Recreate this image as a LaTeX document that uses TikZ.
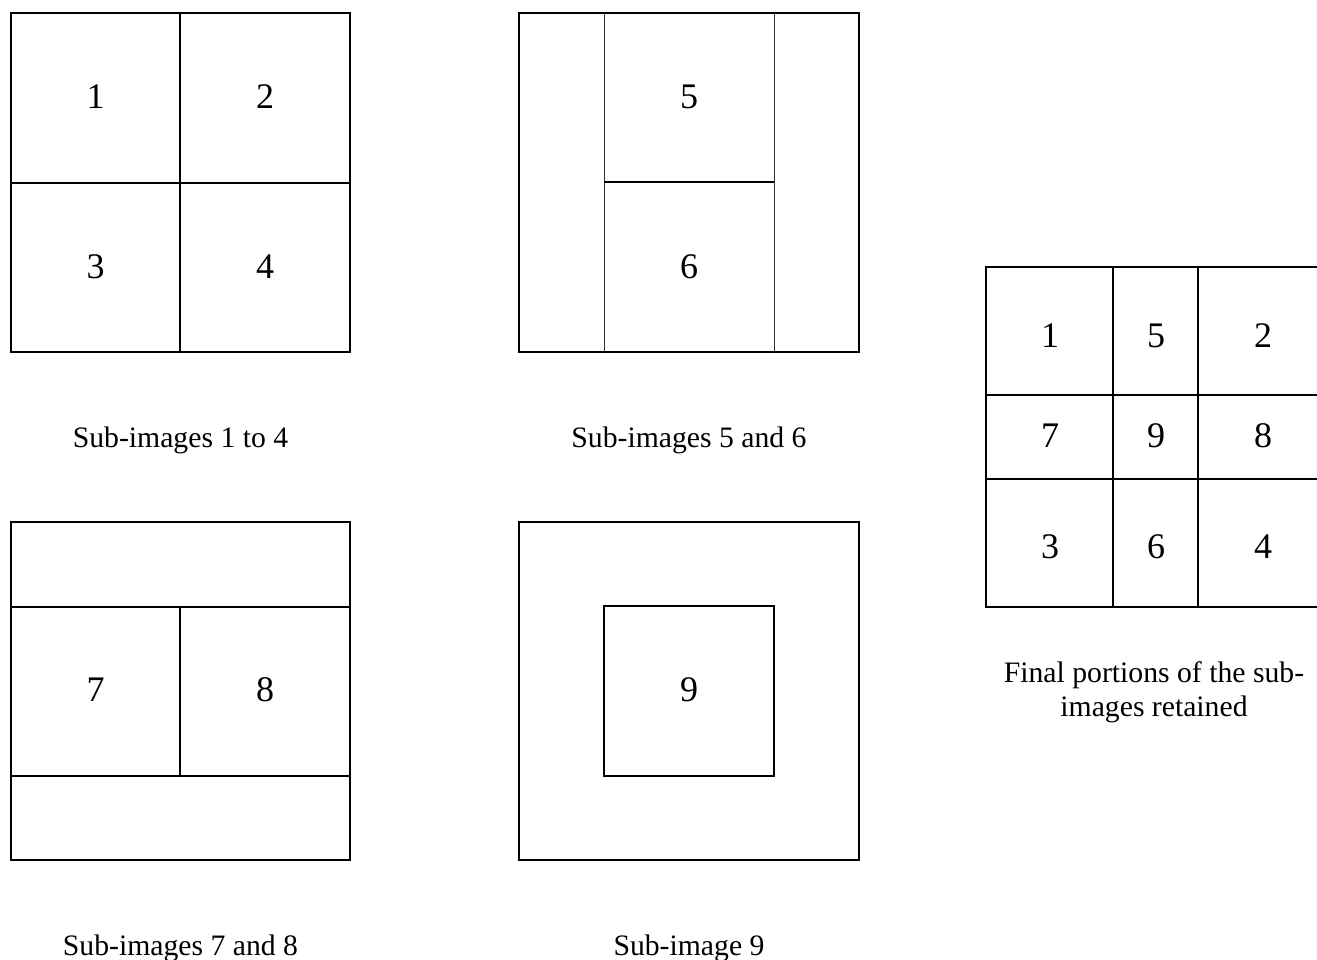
\documentclass[tikz,border=0pt]{standalone}
\usepackage{fontspec}
\setmainfont{Liberation Serif}
\usetikzlibrary{positioning}

\tikzset{
	frame/.style={draw, line width=1.6pt},
	split/.style={draw, line width=1.3pt},
	thinsplit/.style={draw, line width=1pt, black!80},
	num/.style={inner sep=0pt, font=\fontsize{36}{40}\selectfont},
	caption/.style={inner sep=0pt, anchor=base, font=\fontsize{29.7}{34}\selectfont}
}

\begin{document}
\begin{tikzpicture}
		[x=1pt, y=-1pt]
		\useasboundingbox (0,0) rectangle (1317,960);

		% sub-images 1 to 4
		\draw[frame] (11,13) rectangle (350,352);
		\draw[split] (180,13) -- (180,352);
		\draw[split] (11,183) -- (350,183);
		\node[num] (a1) at (95.5,97) {1};
		\node[num] (a2) at (265,97) {2};
		\node[num] (a3) at (95.5,267) {3};
		\node[num] (a4) at (265,267) {4};
		\node[caption] (capA) at (180.5,447) {Sub-images 1 to 4};

		% sub-images 5 and 6
		\draw[frame] (519,13) rectangle (859,352);
		\draw[thinsplit] (604,13) -- (604,352);
		\draw[thinsplit] (774,13) -- (774,352);
		\draw[split] (604,182) -- (774,182);
		\node[num] (b5) at (689,97) {5};
		\node[num] (b6) at (689,267) {6};
		\node[caption] (capB) at (689,447) {Sub-images 5 and 6};

		% sub-images 7 and 8
		\draw[frame] (11,522) rectangle (350,860);
		\draw[split] (11,607) -- (350,607);
		\draw[split] (11,776) -- (350,776);
		\draw[split] (180,607) -- (180,776);
		\node[num] (c7) at (95.5,690) {7};
		\node[num] (c8) at (265,690) {8};
		\node[caption] (capC) at (180.5,955) {Sub-images 7 and 8};

		% sub-image 9
		\draw[frame] (519,522) rectangle (859,860);
		\draw[frame] (604,606) rectangle (774,776);
		\node[num] (d9) at (689,690) {9};
		\node[caption] (capD) at (689,955) {Sub-image 9};

		% final portions
		\draw[frame] (1330,267) -- (986,267) -- (986,607) -- (1330,607);
		\draw[split] (986,395) -- (1330,395);
		\draw[split] (986,479) -- (1330,479);
		\draw[split] (1113,267) -- (1113,607);
		\draw[split] (1198,267) -- (1198,607);
		\node[num] (f1) at (1050,336) {1};
		\node[num] (f5) at (1156,336) {5};
		\node[num] (f2) at (1263,336) {2};
		\node[num] (f7) at (1050,436) {7};
		\node[num] (f9) at (1156,436) {9};
		\node[num] (f8) at (1263,436) {8};
		\node[num] (f3) at (1050,547) {3};
		\node[num] (f6) at (1156,547) {6};
		\node[num] (f4) at (1263,547) {4};
		\node[caption, anchor=center, align=center] (capF) at (1154,692)
			{Final portions of the sub-\\images retained};
	\end{tikzpicture}
\end{document}
